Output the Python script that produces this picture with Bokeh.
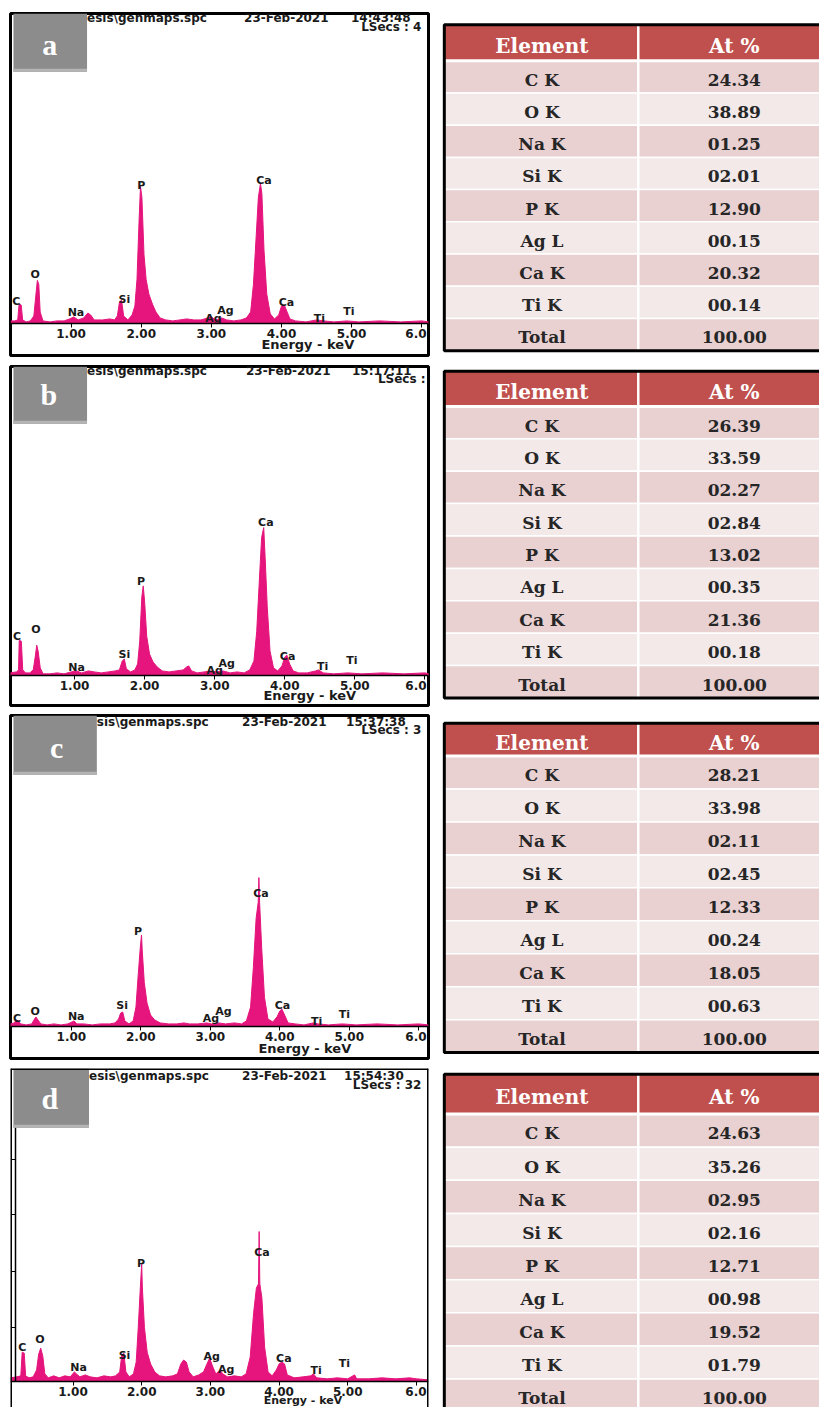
from bokeh.plotting import figure
from bokeh.layouts import column, row
from bokeh.models import (Range1d, LinearAxis, FixedTicker, PrintfTickFormatter,
                          BoxAnnotation, Label, Span)
from bokeh.core.properties import value
from bokeh.embed import file_html
from bokeh.resources import INLINE

# ---------------- DATA ----------------
# EDS spectra: (energy keV, counts in arbitrary units)
spectrum_a = [(0.14,3),(0.20,3),(0.24,4),(0.26,20),(0.29,19),(0.31,4),(0.36,2),(0.42,3),(0.47,8),
    (0.50,30),(0.52,44),(0.54,40),(0.56,12),(0.60,3),(0.70,2),(0.80,3),(0.90,3),(0.98,5),(1.04,7),
    (1.10,4),(1.18,6),(1.24,11),(1.28,9),(1.33,4),(1.45,4),(1.55,5),(1.62,4),(1.66,8),(1.69,22),
    (1.72,24),(1.75,8),(1.81,4),(1.87,9),(1.91,18),(1.94,45),(1.97,105),(1.99,139),(2.01,128),
    (2.04,70),(2.07,45),(2.11,30),(2.16,20),(2.21,12),(2.27,6),(2.35,4),(2.45,3),(2.55,4),(2.65,5),
    (2.75,4),(2.85,4),(2.95,6),(3.00,7),(3.06,4),(3.15,6),(3.22,4),(3.32,3),(3.42,4),(3.50,6),
    (3.56,12),(3.60,40),(3.64,90),(3.67,128),(3.70,142),(3.72,132),(3.75,75),(3.79,30),(3.84,10),
    (3.90,5),(3.96,9),(4.00,18),(4.04,19),(4.08,12),(4.12,5),(4.20,3),(4.35,2),(4.50,4),(4.60,3),
    (4.75,2),(4.93,3),(5.10,2),(5.40,3),(5.70,2),(6.00,3),(6.10,2)]
spectrum_b = [(0.08,3),(0.17,4),(0.20,6),(0.21,36),(0.24,35),(0.26,6),(0.30,3),(0.36,3),(0.41,6),
    (0.44,20),(0.46,31),(0.48,25),(0.51,8),(0.55,2),(0.65,2),(0.75,3),(0.85,2),(0.95,4),(1.03,5),
    (1.10,3),(1.20,5),(1.28,4),(1.38,3),(1.48,4),(1.58,5),(1.64,6),(1.68,15),(1.71,17),(1.74,7),
    (1.80,4),(1.86,6),(1.90,12),(1.93,35),(1.96,80),(1.98,91),(2.00,75),(2.03,40),(2.07,22),
    (2.12,14),(2.18,9),(2.25,5),(2.35,4),(2.45,5),(2.55,6),(2.60,9),(2.63,10),(2.67,5),(2.75,3),
    (2.85,4),(2.95,5),(3.02,4),(3.12,5),(3.22,3),(3.32,4),(3.42,3),(3.50,6),(3.56,15),(3.60,45),
    (3.64,100),(3.67,140),(3.70,150),(3.72,120),(3.75,70),(3.79,25),(3.84,8),(3.90,5),(3.96,10),
    (4.00,19),(4.03,21),(4.07,12),(4.12,5),(4.20,3),(4.32,3),(4.44,5),(4.48,6),(4.55,3),(4.70,2),
    (4.90,3),(5.10,2),(5.40,3),(5.70,2),(6.00,3),(6.06,2)]
spectrum_c = [(0.12,3),(0.18,4),(0.21,7),(0.24,6),(0.27,3),(0.35,2),(0.43,3),(0.47,8),(0.49,10),
    (0.52,7),(0.56,3),(0.65,2),(0.75,3),(0.85,2),(0.95,3),(1.01,5),(1.04,6),(1.08,3),(1.18,3),
    (1.30,2),(1.42,3),(1.55,3),(1.63,4),(1.68,8),(1.71,14),(1.74,15),(1.77,6),(1.83,3),(1.89,6),
    (1.93,20),(1.96,50),(1.99,78),(2.01,93),(2.02,78),(2.05,45),(2.09,24),(2.14,12),(2.20,7),
    (2.28,4),(2.40,3),(2.52,3),(2.62,4),(2.70,3),(2.82,3),(2.95,4),(3.02,3),(3.12,4),(3.22,3),
    (3.35,4),(3.45,3),(3.52,6),(3.58,20),(3.62,60),(3.66,110),(3.69,126),(3.70,151),(3.71,126),
    (3.74,80),(3.78,30),(3.83,8),(3.90,5),(3.96,10),(4.00,16),(4.03,18),(4.07,12),(4.12,4),
    (4.22,3),(4.35,2),(4.48,4),(4.55,3),(4.70,2),(4.90,3),(5.10,2),(5.40,3),(5.70,2),(6.00,3),
    (6.14,2)]
spectrum_d = [(0.09,4),(0.18,5),(0.24,6),(0.26,30),(0.29,29),(0.31,6),(0.36,4),(0.42,5),(0.47,12),
    (0.50,28),(0.53,34),(0.56,26),(0.59,8),(0.64,4),(0.72,6),(0.80,4),(0.88,6),(0.96,5),(1.02,10),
    (1.05,8),(1.10,5),(1.18,7),(1.25,5),(1.35,4),(1.45,6),(1.55,5),(1.62,6),(1.68,10),(1.71,27),
    (1.74,29),(1.77,10),(1.82,5),(1.88,8),(1.92,20),(1.95,55),(1.98,95),(2.00,119),(2.01,95),
    (2.04,55),(2.08,30),(2.13,18),(2.19,10),(2.26,6),(2.35,5),(2.45,6),(2.52,8),(2.57,18),(2.61,22),
    (2.65,20),(2.69,10),(2.75,5),(2.83,7),(2.90,10),(2.95,18),(2.99,24),(3.03,16),(3.08,8),
    (3.14,12),(3.18,8),(3.25,5),(3.35,6),(3.45,5),(3.52,8),(3.58,25),(3.63,70),(3.67,95),(3.70,99),
    (3.71,152),(3.72,99),(3.75,85),(3.79,35),(3.84,10),(3.90,6),(3.96,12),(4.00,18),(4.04,20),
    (4.08,18),(4.12,7),(4.22,4),(4.35,5),(4.46,6),(4.50,8),(4.55,4),(4.70,3),(4.85,4),(5.00,3),
    (5.10,7),(5.13,3),(5.30,3),(5.50,4),(5.70,3),(5.90,4),(6.00,3),(6.17,2)]

# peak labels: (text, energy keV, counts)
peaks_a = [("C",0.22,23),("O",0.49,50),("Na",1.07,12),("Si",1.76,25),("P",2.00,140),("Ag",3.20,14),
           ("Ag",3.03,5),("Ca",3.75,145),("Ca",4.07,22),("Ti",4.54,5),("Ti",4.96,13)]
peaks_b = [("C",0.18,40),("O",0.45,47),("Na",1.03,8),("Si",1.71,22),("P",1.95,95),("Ag",3.17,13),
           ("Ag",3.00,5),("Ca",3.73,155),("Ca",4.04,20),("Ti",4.54,9),("Ti",4.96,16)]
peaks_c = [("C",0.22,8),("O",0.48,16),("Na",1.07,10),("Si",1.73,22),("P",1.96,96),("Ag",3.19,16),
           ("Ag",3.01,8),("Ca",3.73,135),("Ca",4.04,22),("Ti",4.53,5),("Ti",4.93,13)]
peaks_d = [("C",0.26,35),("O",0.52,43),("Na",1.08,14),("Si",1.75,27),("P",1.99,120),("Ag",3.02,26),
           ("Ag",3.23,12),("Ca",3.75,131),("Ca",4.07,24),("Ti",4.54,11),("Ti",4.95,19)]

energy_ticks = [1, 2, 3, 4, 5, 6]
d_count_ticks = [55, 112, 169, 225]

headers = {
    "a": ("esis\\genmaps.spc", "23-Feb-2021", "14:43:48", "LSecs :  4"),
    "b": ("esis\\genmaps.spc", "23-Feb-2021", "15:17:11", "LSecs :"),
    "c": ("sis\\genmaps.spc", "23-Feb-2021", "15:37:38", "LSecs :  3"),
    "d": ("esis\\genmaps.spc", "23-Feb-2021", "15:54:30", "LSecs :  32"),
}

elements = ["C K", "O K", "Na K", "Si K", "P K", "Ag L", "Ca K", "Ti K", "Total"]
at_pct_a = [24.34, 38.89, 1.25, 2.01, 12.90, 0.15, 20.32, 0.14, 100.00]
at_pct_b = [26.39, 33.59, 2.27, 2.84, 13.02, 0.35, 21.36, 0.18, 100.00]
at_pct_c = [28.21, 33.98, 2.11, 2.45, 12.33, 0.24, 18.05, 0.63, 100.00]
at_pct_d = [24.63, 35.26, 2.95, 2.16, 12.71, 0.98, 19.52, 1.79, 100.00]

# ---------------- LAYOUT / STYLE ----------------
MAG = "#E5157D"
GRAY = "#8C8C8C"
HEAD_RED = "#C0504D"
ROW_DARK = "#E9D0D1"
ROW_LIGHT = "#F3E9E9"

# geometry is given in reference pixels (835 x 1423) and scaled to the 819 x 1407 page area
REF_W, REF_H = 835, 1423
OUT_W, OUT_H = 819, 1407
SX, SY = OUT_W / REF_W, OUT_H / REF_H
SPLIT_REF = 443
SPEC_W = round(SPLIT_REF * SX)
TAB_W = OUT_W - SPEC_W
ROW_EDGES_REF = {"a": (0, 362), "b": (362, 718), "c": (718, 1073), "d": (1073, 1423)}

GEO = {
    "a": dict(ftop=13, fbot=359, base=327, x0=0.2, k=71.5,
              gray=(13, 88, 13, 72), letter_xy=(50, 44), head_y=(18, 27),
              head_x=(88, 248, 357), energy_xy=(313, 348), energy_fs="13px"),
    "b": dict(ftop=370, fbot=713, base=683, x0=3.9, k=71.4,
              gray=(13, 88, 370, 428), letter_xy=(49, 398), head_y=(375, 383),
              head_x=(88, 250, 358), energy_xy=(315, 703), energy_fs="13px"),
    "c": dict(ftop=723, fbot=1070, base=1038, x0=1.2, k=70.8,
              gray=(13, 98, 723, 783), letter_xy=(57, 755), head_y=(730, 738),
              head_x=(98, 246, 352), energy_xy=(310, 1060), energy_fs="13px"),
    "d": dict(ftop=1080, fbot=1423, base=1397, x0=3.7, k=70.0,
              gray=(13, 90, 1080, 1140), letter_xy=(50, 1110), head_y=(1088, 1097),
              head_x=(90, 246, 350), energy_xy=(308, 1416), energy_fs="11px"),
}
TGEO = {
    "a": dict(top=12, hbot=50, pitch=34.1),
    "b": dict(top=367, hbot=404, pitch=34.0),
    "c": dict(top=726, hbot=760, pitch=34.1),
    "d": dict(top=1079, hbot=1120, pitch=34.2),
}
FX0, FX1 = 10, 436  # spectrum box, reference pixels


def row_px(key):
    r0, r1 = ROW_EDGES_REF[key]
    return round(r0 * SY), round(r1 * SY)


def spectrum_figure(key, spec, peaks, letter):
    g = GEO[key]
    x0, k, base = g["x0"], g["k"], g["base"]
    ex = lambda px: (px - x0) / k
    cy = lambda py: base - py
    rt, rb = row_px(key)
    H = rb - rt
    p = figure(width=SPEC_W, height=H, title=None,
               x_range=Range1d(ex(FX0), ex(FX1)), y_range=Range1d(cy(g["fbot"]), cy(g["ftop"])),
               x_axis_type=None, y_axis_type=None, toolbar_location=None, output_backend="svg",
               min_border_left=round(FX0 * SX), min_border_right=SPEC_W - round(FX1 * SX),
               min_border_top=round(g["ftop"] * SY) - rt,
               min_border_bottom=rb - round(g["fbot"] * SY),
               background_fill_color="white", border_fill_color="white")
    E = [e for e, c in spec]
    C = [c for e, c in spec]
    p.varea(x=E, y1=0, y2=C, fill_color=MAG)
    p.line(x=E, y=C, line_color=MAG, line_width=1)

    p.text(x=[e for _, e, _ in peaks], y=[c for _, _, c in peaks], text=[t for t, _, _ in peaks],
           text_font=value("DejaVu Sans"), text_font_style="bold", text_font_size="11px",
           text_color="#1a1a1a", text_align="center", text_baseline="middle")

    h = headers[key]
    hx = g["head_x"]
    hy = g["head_y"]
    p.text(x=[ex(hx[0]), ex(hx[1]), ex(hx[2])], y=[cy(hy[0])] * 3, text=list(h[:3]),
           text_font=value("DejaVu Sans"), text_font_style="bold", text_font_size="12px",
           text_color="#1a1a1a", text_align="left", text_baseline="middle")
    p.text(x=[ex(FX1 - 3)], y=[cy(hy[1])], text=[h[3]],
           text_font=value("DejaVu Sans"), text_font_style="bold", text_font_size="12px",
           text_color="#1a1a1a", text_align="right", text_baseline="middle")

    exy = g["energy_xy"]
    p.text(x=[ex(exy[0])], y=[cy(exy[1])], text=["Energy - keV"],
           text_font=value("DejaVu Sans"), text_font_style="bold", text_font_size=g["energy_fs"],
           text_color="#1a1a1a", text_align="center", text_baseline="middle")
    # last tick label, squeezed against the box edge as in the original
    p.text(x=[ex(FX1 - 2)], y=[-10], text=["%.1f" % energy_ticks[-1]],
           text_font=value("DejaVu Sans"), text_font_style="bold", text_font_size="12px",
           text_color="#1a1a1a", text_align="right", text_baseline="middle")

    ax = LinearAxis(fixed_location=0, ticker=FixedTicker(ticks=energy_ticks),
                    formatter=PrintfTickFormatter(format="%.2f"),
                    major_label_overrides={6: "", 6.0: ""},
                    axis_line_color="black", axis_line_width=1.5,
                    major_tick_line_color="black", major_tick_in=0, major_tick_out=4,
                    minor_tick_line_color=None, major_label_standoff=1,
                    major_label_text_font="DejaVu Sans", major_label_text_font_style="bold",
                    major_label_text_font_size="12px", major_label_text_color="#1a1a1a")
    p.add_layout(ax, "below")

    if key == "d":
        yax = LinearAxis(fixed_location=ex(15), ticker=FixedTicker(ticks=d_count_ticks),
                         bounds=(0, 262), axis_line_color="black", axis_line_width=1.5,
                         major_tick_line_color="black", major_tick_in=0, major_tick_out=4,
                         minor_tick_line_color=None, major_label_text_color=None,
                         major_label_text_font_size="1px")
        p.add_layout(yax, "left")

    gx0, gx1, gy0, gy1 = g["gray"]
    p.add_layout(BoxAnnotation(left=ex(gx0), right=ex(gx1), top=cy(gy0), bottom=cy(gy1),
                               fill_color=GRAY, fill_alpha=1.0, line_color=None))
    p.add_layout(BoxAnnotation(left=ex(gx0), right=ex(gx1), top=cy(gy1 - 3), bottom=cy(gy1),
                               fill_color="#B4B4B4", fill_alpha=1.0, line_color=None))
    lx, ly = g["letter_xy"]
    p.add_layout(Label(x=ex(lx), y=cy(ly), text=letter, text_font="Liberation Serif",
                       text_font_style="bold", text_font_size="30px", text_color="white",
                       text_align="center", text_baseline="middle"))

    if key == "d":
        p.outline_line_color = None
        p.add_layout(Span(location=ex(FX0), dimension="height", line_color="black", line_width=3))
        p.add_layout(Span(location=ex(FX1), dimension="height", line_color="black", line_width=3))
        p.add_layout(Span(location=cy(g["ftop"]), dimension="width", line_color="black", line_width=3))
    else:
        p.outline_line_color = "black"
        p.outline_line_width = 3
    return p


def table_figure(key, values):
    t = TGEO[key]
    r0, r1 = ROW_EDGES_REF[key]
    rt, rb = row_px(key)
    H = rb - rt
    p = figure(width=TAB_W, height=H, title=None,
               x_range=Range1d(SPLIT_REF, REF_W), y_range=Range1d(r1, r0),
               x_axis_type=None, y_axis_type=None, toolbar_location=None, output_backend="svg",
               min_border=0, background_fill_color="white", border_fill_color="white")
    p.outline_line_color = None
    L, R, CX = 452, 850, 650
    n = len(elements)
    tbot = t["hbot"] + n * t["pitch"]
    p.quad(left=[L], right=[R], top=[t["top"]], bottom=[t["hbot"]], fill_color=HEAD_RED, line_color=None)
    tops = [t["hbot"] + i * t["pitch"] for i in range(n)]
    bots = [v + t["pitch"] for v in tops]
    fills = [ROW_DARK if i % 2 == 0 else ROW_LIGHT for i in range(n)]
    p.quad(left=[L] * n, right=[R] * n, top=tops, bottom=bots, fill_color=fills,
           line_color="white", line_width=1.5)
    p.segment(x0=[L], y0=[t["hbot"]], x1=[R], y1=[t["hbot"]], line_color="white", line_width=3)
    p.segment(x0=[CX], y0=[t["top"]], x1=[CX], y1=[tbot], line_color="white", line_width=2.5)
    p.quad(left=[L], right=[R], top=[t["top"]], bottom=[tbot], fill_color=None,
           line_color="black", line_width=3)
    hy = (t["hbot"] + t["top"]) / 2 + 3
    p.text(x=[551.7, 748], y=[hy, hy], text=["Element", "At %"],
           text_font=value("DejaVu Serif"), text_font_style="bold", text_font_size="20px",
           text_color="white", text_align="center", text_baseline="middle")
    cys = [v + t["pitch"] / 2 + 3 for v in tops]
    p.text(x=[551.7] * n, y=cys, text=elements,
           text_font=value("DejaVu Serif"), text_font_style="bold", text_font_size="17px",
           text_color="#262626", text_align="center", text_baseline="middle")
    p.text(x=[748] * n, y=cys, text=["%05.2f" % v for v in values],
           text_font=value("DejaVu Serif"), text_font_style="bold", text_font_size="17px",
           text_color="#262626", text_align="center", text_baseline="middle")
    return p


rows = []
for key, spec, peaks, vals in [("a", spectrum_a, peaks_a, at_pct_a),
                               ("b", spectrum_b, peaks_b, at_pct_b),
                               ("c", spectrum_c, peaks_c, at_pct_c),
                               ("d", spectrum_d, peaks_d, at_pct_d)]:
    rows.append(row(spectrum_figure(key, spec, peaks, key), table_figure(key, vals), spacing=0))

layout = column(*rows, spacing=0)
open("out.html", "w").write(file_html(layout, INLINE))
